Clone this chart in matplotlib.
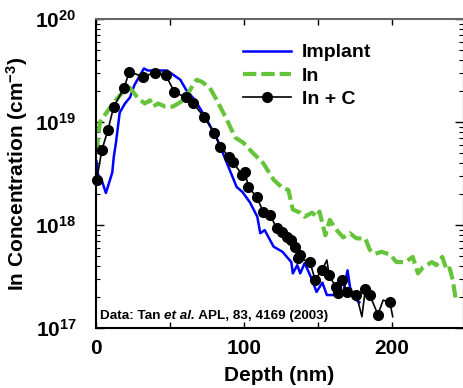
import matplotlib
matplotlib.use('Agg')
import matplotlib.pyplot as plt
import numpy as np
from matplotlib.ticker import FixedLocator, FixedFormatter, LogLocator, NullFormatter

plt.rcParams['font.family'] = ['Liberation Sans', 'DejaVu Sans']
plt.rcParams['font.weight'] = 'bold'
plt.rcParams['mathtext.fontset'] = 'custom'
plt.rcParams['mathtext.rm'] = 'Liberation Sans:bold'
plt.rcParams['mathtext.bf'] = 'Liberation Sans:bold'
plt.rcParams['mathtext.it'] = 'Liberation Sans:bold:italic'

# depth (nm), log10 concentration (cm^-3)
implant_x = [0.3, 1.5, 3.5, 6.7, 11, 12, 13.5, 16, 19.6, 23, 26, 32.4, 35, 48, 57, 61, 67,
             75, 82, 88.5, 95, 99, 104, 109, 111, 114, 120, 126, 132, 133, 136, 138, 141,
             146, 149, 153, 156, 161.5, 167, 170, 171.6, 174, 178]
implant_logy = [18.62, 18.48, 18.45, 18.31, 18.51, 18.66, 18.80, 19.09, 19.18, 19.24, 19.36,
                19.52, 19.50, 19.50, 19.41, 19.31, 19.21, 19.02, 18.83, 18.60, 18.37, 18.32,
                18.22, 18.08, 17.92, 17.95, 17.79, 17.74, 17.64, 17.53, 17.61, 17.53, 17.63,
                17.47, 17.35, 17.44, 17.32, 17.32, 17.34, 17.56, 17.40, 17.29, 17.25]

in_x = [0.3, 2.7, 11.5, 17.5, 23, 28.5, 33, 36.5, 38.5, 42, 46.6, 52, 59, 63.5, 68, 71.6, 77,
        81.7, 88.5, 94, 99.5, 106, 113, 120, 126, 130, 133, 138, 141, 146, 149, 151, 155, 158,
        161.5, 167, 171.6, 176, 182, 185, 188.5, 193, 199, 203, 209, 214, 217.6, 221, 227,
        230, 234, 237, 239, 241, 243]
in_logy = [18.72, 19.0, 19.18, 19.28, 19.33, 19.23, 19.18, 19.21, 19.15, 19.18, 19.15, 19.15,
           19.21, 19.31, 19.41, 19.39, 19.33, 19.21, 19.02, 18.85, 18.80, 18.70, 18.60, 18.44,
           18.36, 18.34, 18.15, 18.12, 18.08, 18.12, 18.08, 18.13, 17.90, 18.05, 17.97, 17.88,
           17.92, 17.87, 17.87, 17.76, 17.72, 17.74, 17.71, 17.64, 17.64, 17.69, 17.53, 17.59,
           17.64, 17.61, 17.69, 17.56, 17.58, 17.47, 17.29]

inc_x = [0.5, 4, 8, 12, 19, 22.5, 31.5, 40, 47, 53, 60.5, 65.7, 73, 80, 84, 90, 92.6, 98.6,
         100.7, 103, 108.6, 113, 117.6, 122, 125.7, 129, 132, 134.5, 138, 136.5, 144.6, 148,
         152.7, 156, 157.6, 162, 163.5, 166, 169.5, 176, 179.7, 182, 185, 190.5, 194, 198.6,
         200.5]
inc_logy = [18.44, 18.73, 18.92, 19.15, 19.33, 19.49, 19.44, 19.48, 19.46, 19.29, 19.24,
            19.18, 19.05, 18.89, 18.76, 18.66, 18.61, 18.49, 18.51, 18.37, 18.27, 18.13, 18.10,
            17.97, 17.93, 17.88, 17.85, 17.79, 17.71, 17.68, 17.64, 17.47, 17.56, 17.66, 17.51,
            17.40, 17.34, 17.47, 17.35, 17.32, 17.11, 17.38, 17.32, 17.13, 17.27, 17.25, 17.11]
# points of the In + C trace without a marker (spikes)
inc_nomark = [33, 40, 44, 46]

fig = plt.figure(figsize=(4.63, 3.88), dpi=100)
ax = fig.add_axes([96 / 463, 1 - 328 / 388, 367 / 463, 309 / 388])

ax.plot(implant_x, 10 ** np.array(implant_logy), color='#0000ff', lw=1.8, label='Implant')
ax.plot(in_x, 10 ** np.array(in_logy), color='#66c43a', lw=3, dashes=(3.2, 1.2), label='In')
marks = [i for i in range(len(inc_x)) if i not in inc_nomark]
ax.plot(inc_x, 10 ** np.array(inc_logy), color='black', lw=1.2, marker='o', ms=7,
        markevery=marks, label='In + C', clip_on=False)

ax.set_yscale('log')
ax.set_ylim(1e17, 1e20)
ax.set_xlim(0, 248)

ax.xaxis.set_major_locator(FixedLocator([0, 50, 100, 150, 200]))
ax.xaxis.set_major_formatter(FixedFormatter(['0', '', '100', '', '200']))
ax.yaxis.set_major_locator(FixedLocator([1e17, 1e18, 1e19, 1e20]))
ax.yaxis.set_major_formatter(FixedFormatter([r'$\mathbf{10^{%d}}$' % e for e in (17, 18, 19, 20)]))
ax.yaxis.set_minor_locator(LogLocator(base=10, subs=np.arange(2, 10)))
ax.yaxis.set_minor_formatter(NullFormatter())

ax.tick_params(which='both', direction='in', top=True, right=True, labelsize=15)
ax.tick_params(axis='x', which='major', length=4, width=1, pad=8)
ax.tick_params(axis='y', which='major', length=6, width=1, pad=14)
ax.tick_params(axis='y', which='minor', length=3, width=0.8)

for s in ['left', 'bottom']:
    ax.spines[s].set_linewidth(1.5)
    ax.spines[s].set_color('black')
ax.spines['top'].set_linewidth(1.5)
ax.spines['top'].set_color('#666666')

ax.set_xlabel('Depth (nm)', fontsize=15, fontweight='bold', labelpad=6)
ax.set_ylabel(r'In Concentration (cm$^{\mathbf{-3}}$)', fontsize=15, fontweight='bold', labelpad=4)

leg = ax.legend(loc='upper left', bbox_to_anchor=(0.40, 0.92), frameon=False, fontsize=14,
                handlelength=2.5, handletextpad=0.55, labelspacing=0.3, borderpad=0,
                borderaxespad=0)

t1 = ax.text(0.01, 0.03, 'Data: Tan ', transform=ax.transAxes, fontsize=9.7, fontweight='bold')
t2 = ax.annotate('et al.', xy=(1, 0), xycoords=t1, va='bottom', fontsize=9.7,
                 fontweight='bold', fontstyle='italic')
ax.annotate(' APL, 83, 4169 (2003)', xy=(1, 0), xycoords=t2, va='bottom', fontsize=9.7,
            fontweight='bold')

fig.savefig('out.png', dpi=100)
